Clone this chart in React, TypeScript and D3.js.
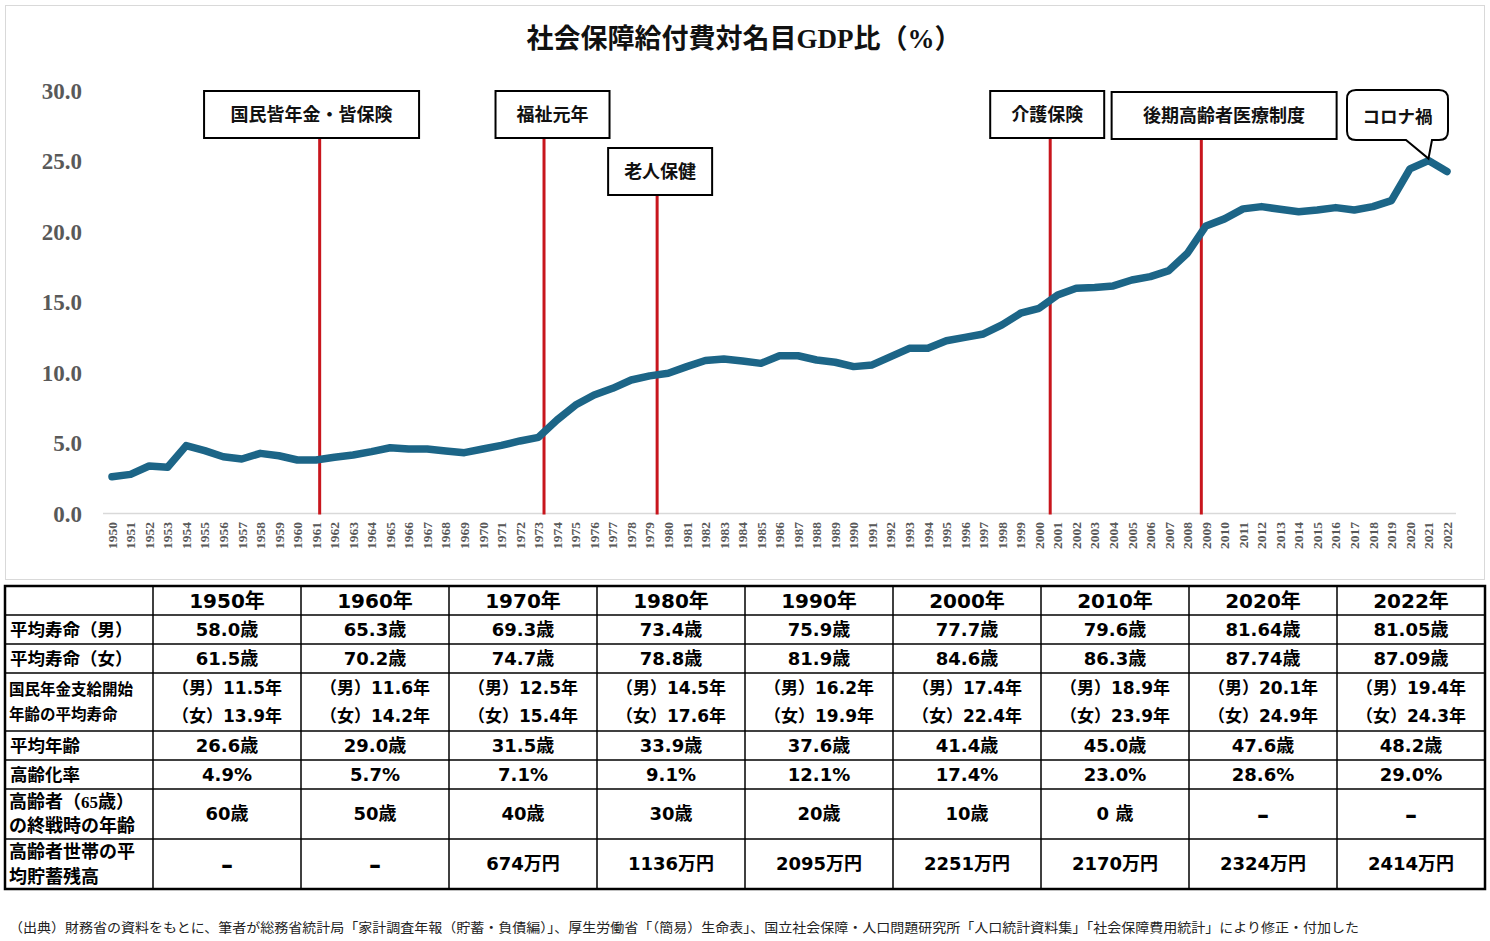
import React from "react";
import * as d3 from "d3";

// 社会保障給付費対名目GDP比（%）, 1950〜2022
const startYear = 1950;
const ratio = [
  2.61, 2.78, 3.37, 3.28, 4.82, 4.46, 4.03, 3.87, 4.27, 4.1,
  3.8, 3.8, 3.99, 4.15, 4.39, 4.67, 4.58, 4.58, 4.44, 4.32,
  4.58, 4.84, 5.15, 5.41, 6.64, 7.7, 8.42, 8.89, 9.48, 9.77,
  9.96, 10.43, 10.86, 10.97, 10.83, 10.66, 11.2, 11.2, 10.9, 10.74,
  10.43, 10.55, 11.14, 11.73, 11.73, 12.27, 12.51, 12.75, 13.39, 14.22,
  14.57, 15.52, 15.99, 16.04, 16.16, 16.58, 16.82, 17.25, 18.48, 20.42,
  20.92, 21.63, 21.79, 21.6, 21.43, 21.55, 21.72, 21.55, 21.79, 22.22,
  24.47, 25.06, 24.28,
];
const yTicks = [0, 5, 10, 15, 20, 25, 30];

const eventLabels = ["国民皆年金・皆保険", "福祉元年", "老人保健", "介護保険", "後期高齢者医療制度"];
const eventYears = [1961.2, 1973.3, 1979.4, 2000.6, 2008.75];
const calloutLabel = "コロナ禍";
const calloutYear = 2021;

// table
const tableYears = ["1950年", "1960年", "1970年", "1980年", "1990年", "2000年", "2010年", "2020年", "2022年"];
const lifeMale = ["58.0歳", "65.3歳", "69.3歳", "73.4歳", "75.9歳", "77.7歳", "79.6歳", "81.64歳", "81.05歳"];
const lifeFemale = ["61.5歳", "70.2歳", "74.7歳", "78.8歳", "81.9歳", "84.6歳", "86.3歳", "87.74歳", "87.09歳"];
const pensionMale = ["11.5", "11.6", "12.5", "14.5", "16.2", "17.4", "18.9", "20.1", "19.4"];
const pensionFemale = ["13.9", "14.2", "15.4", "17.6", "19.9", "22.4", "23.9", "24.9", "24.3"];
const avgAge = ["26.6歳", "29.0歳", "31.5歳", "33.9歳", "37.6歳", "41.4歳", "45.0歳", "47.6歳", "48.2歳"];
const agingRate = ["4.9%", "5.7%", "7.1%", "9.1%", "12.1%", "17.4%", "23.0%", "28.6%", "29.0%"];
const ageAtWarEnd = ["60歳", "50歳", "40歳", "30歳", "20歳", "10歳", "0 歳", "–", "–"];
const savings = ["–", "–", "674万円", "1136万円", "2095万円", "2251万円", "2170万円", "2324万円", "2414万円"];

const footnote =
  "（出典）財務省の資料をもとに、筆者が総務省統計局「家計調査年報（貯蓄・負債編）」、厚生労働省「（簡易）生命表」、国立社会保障・人口問題研究所「人口統計資料集」「社会保障費用統計」により修正・付加した";

// layout (box placement relative to each event line)
const boxLayout = [
  { dx: -115.6, w: 215, top: 91 },
  { dx: -48.5, w: 114, top: 91 },
  { dx: -49, w: 104, top: 148 },
  { dx: -60, w: 114, top: 91 },
  { dx: -89.7, w: 225, top: 92 },
];

const W = 1490;
const H = 941;
const SERIF = "'Liberation Serif', 'Times New Roman', 'Noto Sans CJK JP', serif";
const GOTHIC = "'Noto Sans CJK JP', sans-serif";
const TABLE_FONT = "'DejaVu Sans', 'Noto Sans CJK JP', sans-serif";
const LINE_COLOR = "#1c6587";
const RED = "#c8161d";
const GRAY_TEXT = "#595959";

export default function App() {
  const years = ratio.map((_, i) => startYear + i);
  const x = d3.scaleLinear().domain([1950, 2022]).range([112, 1447]);
  const y = d3.scaleLinear().domain([0, 30]).range([513.5, 91]);

  const line = d3
    .line<number>()
    .x((_, i) => x(years[i]))
    .y((d) => y(d));

  // table geometry
  const tLeft = 5;
  const colW = 148;
  const rowH = [29, 29, 29, 58, 29, 29, 50, 50];
  const rowTop = [586];
  rowH.forEach((h, i) => rowTop.push(rowTop[i] + h));
  const tRight = tLeft + colW * 10;
  const tBottom = rowTop[rowTop.length - 1];
  const colCenter = (j: number) => tLeft + colW * (j + 1) + colW / 2;

  const singleRows: { label: string; values: string[]; row: number }[] = [
    { label: "平均寿命（男）", values: lifeMale, row: 1 },
    { label: "平均寿命（女）", values: lifeFemale, row: 2 },
    { label: "平均年齢", values: avgAge, row: 4 },
    { label: "高齢化率", values: agingRate, row: 5 },
  ];
  const rowMid = (r: number) => (rowTop[r] + rowTop[r + 1]) / 2;
  const valueSize = (v: string) => (v === "–" ? 24 : 18);

  const cx = x(calloutYear);
  const cy = y(ratio[calloutYear - startYear]) - 2;
  const cb = { l: 1347, r: 1448, t: 90, b: 140, rad: 9 };

  return (
    <div style={{ position: "absolute", left: 0, top: 0 }}>
      <svg width={W} height={H} style={{ display: "block", background: "#fff" }}>
        {/* chart frame */}
        <rect x={5.5} y={5.5} width={1479} height={574} fill="#fff" stroke="#d9d9d9" strokeWidth={1} />

        <text
          x={744}
          y={48}
          textAnchor="middle"
          fontFamily={SERIF}
          fontWeight="bold"
          fontSize={27}
          fill="#111"
        >
          <tspan fontFamily={GOTHIC} fontWeight={700}>社会保障給付費対名目</tspan>
          <tspan>GDP</tspan>
          <tspan fontFamily={GOTHIC} fontWeight={700}>比（</tspan>
          <tspan>%</tspan>
          <tspan fontFamily={GOTHIC} fontWeight={700}>）</tspan>
        </text>

        {/* y axis labels */}
        {yTicks.map((t) => (
          <text
            key={t}
            x={82}
            y={y(t)}
            dy="0.35em"
            textAnchor="end"
            fontFamily={SERIF}
            fontWeight="bold"
            fontSize={23}
            fill={GRAY_TEXT}
          >
            {d3.format(".1f")(t)}
          </text>
        ))}

        {/* baseline */}
        <line x1={103} x2={1456} y1={y(0)} y2={y(0)} stroke="#d9d9d9" strokeWidth={1.5} />

        {/* x labels */}
        {years.map((yr) => (
          <text
            key={yr}
            transform={`translate(${x(yr)},522) rotate(-90)`}
            textAnchor="end"
            dy="0.35em"
            fontFamily={SERIF}
            fontWeight="bold"
            fontSize={13.5}
            fill={GRAY_TEXT}
          >
            {yr}
          </text>
        ))}

        {/* event lines + boxes */}
        {eventLabels.map((lab, i) => {
          const ex = x(eventYears[i]);
          const b = boxLayout[i];
          const bh = 47;
          return (
            <g key={lab}>
              <line x1={ex} x2={ex} y1={b.top + bh} y2={y(0) + 1} stroke={RED} strokeWidth={3} />
              <rect x={ex + b.dx} y={b.top} width={b.w} height={bh} fill="#fff" stroke="#000" strokeWidth={2} />
              <text
                x={ex + b.dx + b.w / 2}
                y={b.top + bh / 2}
                dy="0.36em"
                textAnchor="middle"
                fontFamily={GOTHIC}
                fontWeight={700}
                fontSize={18}
                fill="#111"
              >
                {lab}
              </text>
            </g>
          );
        })}

        {/* data line */}
        <path
          d={line(ratio) ?? ""}
          fill="none"
          stroke={LINE_COLOR}
          strokeWidth={7.5}
          strokeLinejoin="round"
          strokeLinecap="round"
        />

        {/* callout */}
        <path
          d={`M${cb.l + cb.rad},${cb.t} H${cb.r - cb.rad} Q${cb.r},${cb.t} ${cb.r},${cb.t + cb.rad} V${cb.b - cb.rad} Q${cb.r},${cb.b} ${cb.r - cb.rad},${cb.b} H${1432} L${cx},${cy} L${1406},${cb.b} H${cb.l + cb.rad} Q${cb.l},${cb.b} ${cb.l},${cb.b - cb.rad} V${cb.t + cb.rad} Q${cb.l},${cb.t} ${cb.l + cb.rad},${cb.t} Z`}
          fill="#fff"
          stroke="#000"
          strokeWidth={2}
        />
        <text
          x={(cb.l + cb.r) / 2}
          y={(cb.t + cb.b) / 2 + 2}
          dy="0.36em"
          textAnchor="middle"
          fontFamily={GOTHIC}
          fontWeight={700}
          fontSize={17.5}
          fill="#111"
        >
          {calloutLabel}
        </text>

        {/* table */}
        <g>
          {rowTop.slice(1, -1).map((ty, i) => (
            <line key={"h" + i} x1={tLeft} x2={tRight} y1={ty} y2={ty} stroke="#000" strokeWidth={1.5} />
          ))}
          {d3.range(1, 10).map((j) => (
            <line
              key={"v" + j}
              x1={tLeft + colW * j}
              x2={tLeft + colW * j}
              y1={rowTop[0]}
              y2={tBottom}
              stroke="#000"
              strokeWidth={1.5}
            />
          ))}
          <rect
            x={tLeft}
            y={rowTop[0]}
            width={tRight - tLeft}
            height={tBottom - rowTop[0]}
            fill="none"
            stroke="#000"
            strokeWidth={2.5}
          />

          {tableYears.map((t, j) => (
            <text
              key={t}
              x={colCenter(j)}
              y={rowMid(0)}
              dy="0.36em"
              textAnchor="middle"
              fontFamily={TABLE_FONT}
              fontWeight="bold"
              fontSize={20}
              fill="#000"
            >
              {t}
            </text>
          ))}

          {singleRows.map((r) => (
            <g key={r.label}>
              <text
                x={10}
                y={rowMid(r.row)}
                dy="0.36em"
                fontFamily={GOTHIC}
                fontWeight={700}
                fontSize={17.5}
                fill="#000"
              >
                {r.label}
              </text>
              {r.values.map((v, j) => (
                <text
                  key={j}
                  x={colCenter(j)}
                  y={rowMid(r.row)}
                  dy="0.36em"
                  textAnchor="middle"
                  fontFamily={TABLE_FONT}
                  fontWeight="bold"
                  fontSize={18}
                  fill="#000"
                >
                  {v}
                </text>
              ))}
            </g>
          ))}

          {/* pension row */}
          <text x={9} y={rowTop[3] + 16} dy="0.36em" fontFamily={GOTHIC} fontWeight={700} fontSize={15.5}>
            国民年金支給開始
          </text>
          <text x={9} y={rowTop[3] + 41} dy="0.36em" fontFamily={GOTHIC} fontWeight={700} fontSize={15.5}>
            年齢の平均寿命
          </text>
          {pensionMale.map((v, j) => (
            <g key={"p" + j}>
              <text
                x={colCenter(j)}
                y={rowTop[3] + 15}
                dy="0.36em"
                textAnchor="middle"
                fontFamily={TABLE_FONT}
                fontWeight="bold"
                fontSize={17}
              >
                {`（男）${v}年`}
              </text>
              <text
                x={colCenter(j)}
                y={rowTop[3] + 43}
                dy="0.36em"
                textAnchor="middle"
                fontFamily={TABLE_FONT}
                fontWeight="bold"
                fontSize={17}
              >
                {`（女）${pensionFemale[j]}年`}
              </text>
            </g>
          ))}

          {/* age at end of war */}
          <text x={9} y={rowTop[6] + 13} dy="0.36em" fontFamily={GOTHIC} fontWeight={700} fontSize={18}>
            高齢者（<tspan fontFamily={SERIF} fontSize={17}>65</tspan>歳）
          </text>
          <text x={9} y={rowTop[6] + 37} dy="0.36em" fontFamily={GOTHIC} fontWeight={700} fontSize={18}>
            の終戦時の年齢
          </text>
          {ageAtWarEnd.map((v, j) => (
            <text
              key={"w" + j}
              x={colCenter(j)}
              y={rowMid(6)}
              dy="0.36em"
              textAnchor="middle"
              fontFamily={TABLE_FONT}
              fontWeight="bold"
              fontSize={valueSize(v)}
            >
              {v}
            </text>
          ))}

          {/* savings */}
          <text x={9} y={rowTop[7] + 13} dy="0.36em" fontFamily={GOTHIC} fontWeight={700} fontSize={18}>
            高齢者世帯の平
          </text>
          <text x={9} y={rowTop[7] + 38} dy="0.36em" fontFamily={GOTHIC} fontWeight={700} fontSize={18}>
            均貯蓄残高
          </text>
          {savings.map((v, j) => (
            <text
              key={"s" + j}
              x={colCenter(j)}
              y={rowMid(7)}
              dy="0.36em"
              textAnchor="middle"
              fontFamily={TABLE_FONT}
              fontWeight="bold"
              fontSize={valueSize(v)}
            >
              {v}
            </text>
          ))}
        </g>

        <text
          x={9}
          y={927}
          dy="0.36em"
          fontFamily={GOTHIC}
          fontSize={13}
          fill="#222"
          textLength={1350}
          lengthAdjust="spacingAndGlyphs"
        >
          {footnote}
        </text>
      </svg>
    </div>
  );
}
